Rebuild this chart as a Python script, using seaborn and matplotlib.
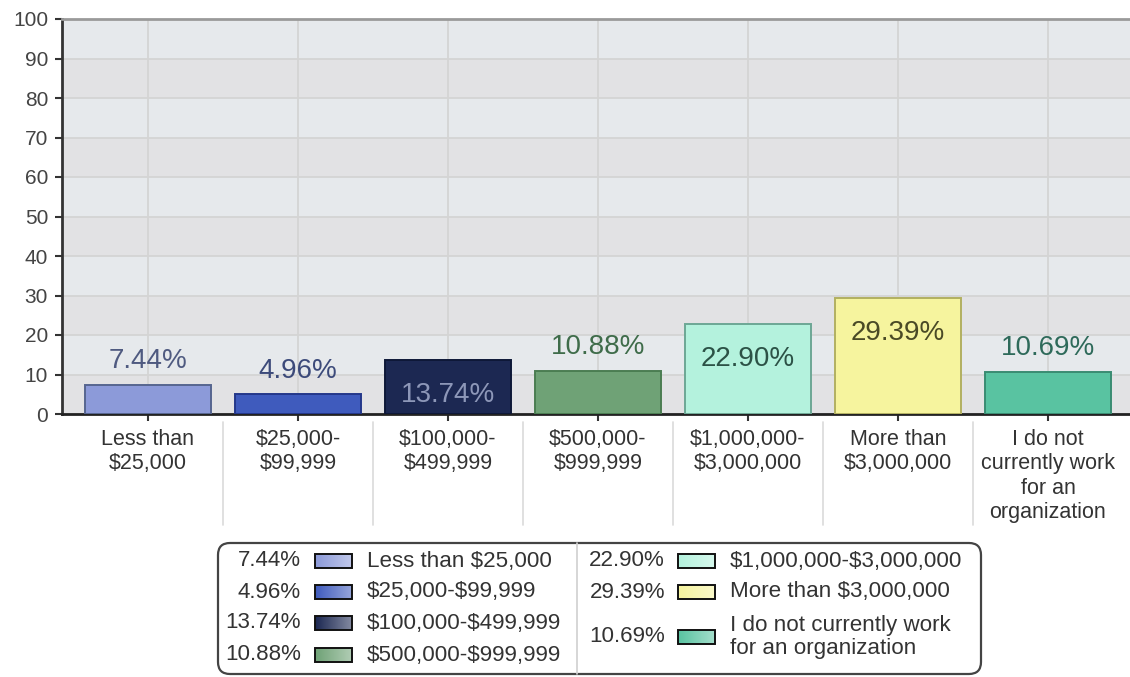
import numpy as np
import pandas as pd
import matplotlib
matplotlib.use("AGG")
import matplotlib.pyplot as plt
from matplotlib.patches import FancyBboxPatch, Rectangle
import seaborn as sns

# data
categories = [
    "Less than\n$25,000",
    "$25,000-\n$99,999",
    "$100,000-\n$499,999",
    "$500,000-\n$999,999",
    "$1,000,000-\n$3,000,000",
    "More than\n$3,000,000",
    "I do not\ncurrently work\nfor an\norganization",
]
legend_labels = [
    "Less than $25,000",
    "$25,000-$99,999",
    "$100,000-$499,999",
    "$500,000-$999,999",
    "$1,000,000-$3,000,000",
    "More than $3,000,000",
    "I do not currently work\nfor an organization",
]
values = [7.44, 4.96, 13.74, 10.88, 22.90, 29.39, 10.69]

bar_colors = ["#8c9ad9", "#3f5bbd", "#1c2852", "#6fa276", "#b4f2dd", "#f6f49e", "#59c3a1"]
edge_colors = ["#56658f", "#24388a", "#0e1838", "#4b7d52", "#6da795", "#b2b061", "#3a8c72"]
text_colors = ["#4f5a80", "#3c4a7a", "#8d97b8", "#3f6c4a", "#2c5246", "#4a4a26", "#2e6a5a"]

sns.set_style("white")
plt.rcParams["font.family"] = ["Liberation Sans", "DejaVu Sans"]
plt.rcParams["text.parse_math"] = False

fig = plt.figure(figsize=(11.3, 6.77), dpi=100)
ax = fig.add_axes([62 / 1130, 263 / 677, 1068 / 1130, 395 / 677])

df = pd.DataFrame({"cat": categories, "val": values})
sns.barplot(data=df, x="cat", y="val", hue="cat", palette=dict(zip(categories, bar_colors)),
            width=0.84, legend=False, saturation=1, ax=ax, zorder=3)
bars = [b for c in ax.containers for b in c]
for p, ec in zip(bars, edge_colors):
    p.set_edgecolor(ec)
    p.set_linewidth(1.4)

# alternating background bands
for k in range(10):
    ax.axhspan(k * 10, k * 10 + 10, color="#e2e2e4" if k % 2 == 0 else "#e6e9ec", lw=0, zorder=0)

ax.set_ylim(0, 100)
ax.set_xlim(-0.573, 6.547)
ax.set_yticks(range(0, 101, 10))
ax.set_xlabel("")
ax.set_ylabel("")
ax.grid(True, color="#d4d4d4", lw=1.3, zorder=1)
ax.set_axisbelow(True)

ax.spines["left"].set_color("#333333")
ax.spines["left"].set_linewidth(2)
ax.spines["bottom"].set_color("#222222")
ax.spines["bottom"].set_linewidth(2)
ax.spines["top"].set_visible(True)
ax.spines["top"].set_color("#9a9a9a")
ax.spines["top"].set_linewidth(2)
ax.spines["right"].set_visible(False)

ax.tick_params(axis="y", left=True, length=5, width=1.5, color="#333333", pad=5,
               labelsize=15, labelcolor="#444444")
ax.tick_params(axis="x", bottom=True, length=5, width=1.5, color="#333333", pad=6,
               labelsize=15.5, labelcolor="#333333")

# value labels
for i, v in enumerate(values):
    y = v - 9 if v > 12 else v + 6
    ax.text(i, y, f"{v:.2f}%", ha="center", va="center", fontsize=20,
            color=text_colors[i], zorder=5)

# separators between category labels
for i in range(len(categories) - 1):
    ax.plot([i + 0.5, i + 0.5], [-0.02, -0.28], transform=ax.get_xaxis_transform(),
            color="#dadada", lw=1.2, clip_on=False, zorder=0)

# custom legend box
lax = fig.add_axes([216 / 1130, 1 / 677, 767 / 1130, 135 / 677])
lax.axis("off")
lax.add_patch(FancyBboxPatch((218, 543), 763, 131, boxstyle="round,pad=0,rounding_size=12",
                             fc="white", ec="#444444", lw=1.6))
lax.plot([577, 577], [543, 674], color="#d0d0d0", lw=1.2)

rows = [(301, 315, 367, 561), (301, 315, 367, 592), (301, 315, 367, 623), (301, 315, 367, 655),
        (665, 678, 730, 561), (665, 678, 730, 592), (665, 678, 730, 637)]
for i, (px, sx, tx, yc) in enumerate(rows):
    lax.text(px, yc, f"{values[i]:.2f}%", ha="right", va="center", fontsize=16.1, color="#333333")
    c = np.array(matplotlib.colors.to_rgb(bar_colors[i]))
    grad = np.linspace(0, 1, 32)[None, :, None]
    img = c * (1 - 0.45 * grad) + 0.45 * grad
    lax.imshow(img, extent=(sx, sx + 37, yc + 7, yc - 7), aspect="auto", zorder=3)
    lax.add_patch(Rectangle((sx, yc - 7), 37, 14, fill=False, ec="#111111", lw=1.4, zorder=4))
    lax.text(tx, yc, legend_labels[i], ha="left", va="center", fontsize=16.1, color="#333333",
             linespacing=1.1)
lax.set_xlim(216, 983)
lax.set_ylim(676, 541)

fig.savefig("out.png", dpi=100)
